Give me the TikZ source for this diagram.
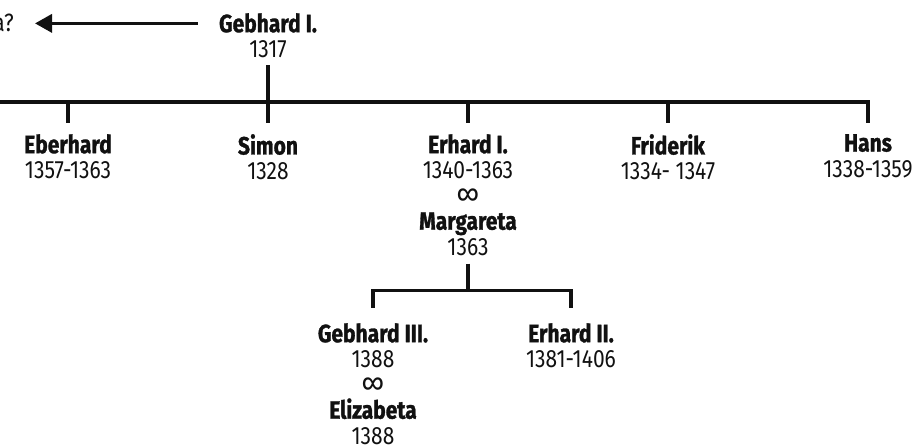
\documentclass[tikz,border=0pt]{standalone}
\usepackage{fontspec}
\setmainfont{Fira Sans}[FakeStretch=0.84,BoldFeatures={FakeBold=1.2}]
\usetikzlibrary{arrows.meta}
\definecolor{Ink}{HTML}{111111}
\tikzset{
  famline/.style={line width=3.3pt,draw=Ink},
  arrowline/.style={-{Triangle[length=17pt,width=18pt]},line width=3.5pt,draw=Ink},
  person/.style={anchor=north,align=center,inner xsep=21pt,inner ysep=0pt,text=Ink,
    font=\fontsize{25}{25.5}\selectfont},
}
\newcommand{\pname}[1]{\textbf{#1}}
\newcommand{\wed}{{\fontsize{30}{25.5}\selectfont ∞}}

\begin{document}
\begin{tikzpicture}[x=1pt,y=-1pt]
    \useasboundingbox (0,0) rectangle (916,446);
    \node[person,anchor=base east] (prev) at (35,32) {a?};
    \node[person] (gebhardI) at (268,13) {\pname{Gebhard I.}\\1317};
    \draw[arrowline] (gebhardI.west |- prev.east) -- (prev.east);

    \node[person] (eberhard) at (68,134) {\pname{Eberhard}\\1357-1363};
    \node[person] (simon) at (268,134) {\pname{Simon}\\1328};
    \node[person] (erhardI) at (468,134) {\pname{Erhard I.}\\1340-1363\\\wed\\\pname{Margareta}\\1363};
    \node[person] (friderik) at (668,134) {\pname{Friderik}\\1334- 1347};
    \node[person] (hans) at (868,134) {\pname{Hans}\\1338-1359};
    \coordinate (sonsbar) at (0,102);
    \draw[famline,shorten <=7pt,shorten >=11pt] (gebhardI.south) -- (simon.north);
    \draw[famline,shorten >=11pt] (sonsbar) -| (hans.north);
    \draw[famline,shorten >=11pt] (eberhard.north |- sonsbar) -- (eberhard.north);
    \draw[famline,shorten >=11pt] (erhardI.north |- sonsbar) -- (erhardI.north);
    \draw[famline,shorten >=11pt] (friderik.north |- sonsbar) -- (friderik.north);

    \node[person] (gebhardIII) at (373,323) {\pname{Gebhard III.}\\1388\\\wed\\\pname{Elizabeta}\\1388};
    \node[person] (erhardII) at (571,323) {\pname{Erhard II.}\\1381-1406};
    \coordinate (kidsbar) at (468,290.5);
    \draw[famline,shorten <=8pt] (erhardI.south) -- (kidsbar);
    \draw[famline,shorten <=15pt,shorten >=15pt] (gebhardIII.north) |- (kidsbar) -| (erhardII.north);
  \end{tikzpicture}
\end{document}
